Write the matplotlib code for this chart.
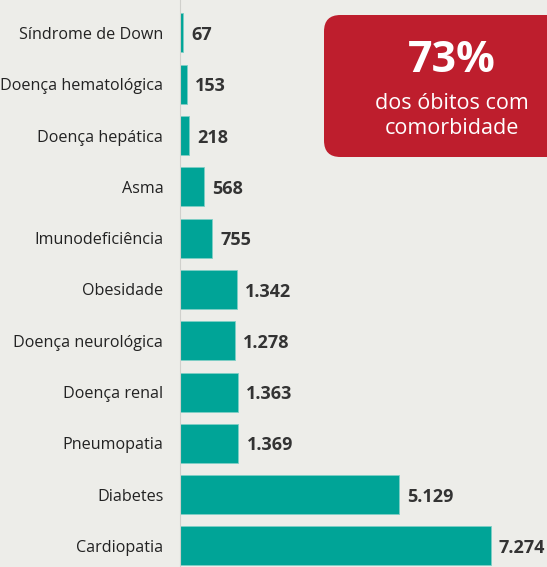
import matplotlib.pyplot as plt
from matplotlib.patches import FancyBboxPatch

# data
categories = ['Síndrome de Down', 'Doença hematológica', 'Doença hepática',
              'Asma', 'Imunodeficiência', 'Obesidade', 'Doença neurológica',
              'Doença renal', 'Pneumopatia', 'Diabetes', 'Cardiopatia']
values = [67, 153, 218, 568, 755, 1342, 1278, 1363, 1369, 5129, 7274]
value_labels = ['67', '153', '218', '568', '755', '1.342', '1.278',
                '1.363', '1.369', '5.129', '7.274']
highlight = '73%'
highlight_text = 'dos óbitos com\ncomorbidade'

bg = '#EDEDE9'
teal = '#00A497'
red = '#BE1E2D'

plt.rcParams['font.family'] = ['Open Sans', 'DejaVu Sans']

fig = plt.figure(figsize=(5.47, 5.67), dpi=100, facecolor=bg)
ax = fig.add_axes([180 / 547, 0, 1 - 180 / 547, 1])
ax.set_facecolor(bg)

y = list(range(len(categories)))
ax.barh(y, values, height=0.76, color=teal, edgecolor='#7fcfc6', linewidth=0.6)

ax.set_xlim(0, 8595)
ax.set_ylim(10.41, -0.643)

ax.set_yticks(y)
ax.set_yticklabels(categories, fontsize=11.6, color='#222222')
ax.tick_params(axis='y', length=0, pad=12)
ax.set_xticks([])

for s in ['top', 'right', 'bottom']:
    ax.spines[s].set_visible(False)
ax.spines['left'].set_color('#d0d0cc')
ax.spines['left'].set_linewidth(0.8)

for yi, v, lab in zip(y, values, value_labels):
    ax.text(v + 190, yi + 0.04, lab, va='center', ha='left', fontsize=13,
            fontweight='bold', color='#333333')

# red box
box = FancyBboxPatch((324 / 547, 1 - 157 / 567), 240 / 547, 142 / 567,
                     boxstyle='round,pad=0,rounding_size=0.03',
                     transform=fig.transFigure, facecolor=red,
                     edgecolor='none', mutation_aspect=547 / 567)
fig.patches.append(box)
fig.text(452 / 547, 1 - 60 / 567, highlight, ha='center', va='center',
         fontsize=31, fontweight='bold', color='white')
fig.text(452 / 547, 1 - 116 / 567, highlight_text, ha='center', va='center',
         fontsize=15.5, color='white', linespacing=1.25)

fig.savefig('out.png', dpi=100, facecolor=bg)
